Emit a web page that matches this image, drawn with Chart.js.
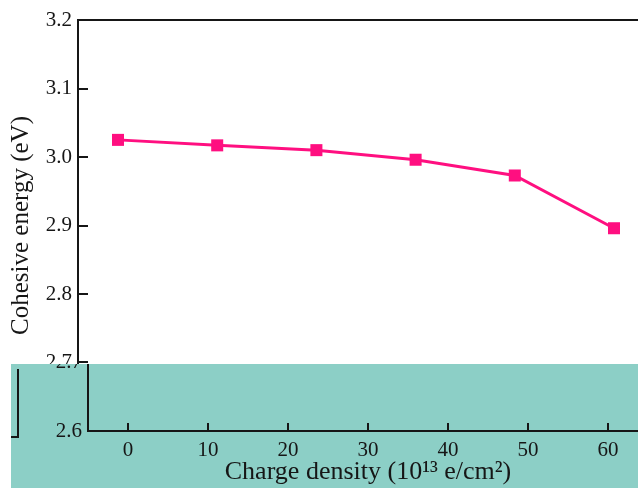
<!DOCTYPE html>
<html><head><meta charset="utf-8">
<script src="https://cdn.jsdelivr.net/npm/chart.js@4.4.1/dist/chart.umd.min.js"></script>
<style>html,body{margin:0;padding:0;background:#fff;}#wrap{width:638px;height:488px;position:relative;}canvas{display:block;}</style>
</head><body><div id="wrap"><canvas id="c" width="638" height="488"></canvas></div>
<script>
const chargeDensity = [0, 12.4, 24.8, 37.2, 49.6, 62.0];
const cohesiveEnergy = [3.025, 3.017, 3.010, 2.996, 2.973, 2.896];
const xTickValues = [0, 10, 20, 30, 40, 50, 60];
const yTickValues = [2.6, 2.7, 2.8, 2.9, 3.0, 3.1, 3.2];
const xTitle = 'Charge density (10\u00B9\u00B3 e/cm\u00B2)';
const yTitle = 'Cohesive energy (eV)';

const AXIS = '#161616';
const TEAL = '#8ccfc6';
const SERIES = '#ff0f80';
const SERIF = "'Liberation Serif', 'Times New Roman', serif";

const framePlugin = {
  id: 'frame',
  beforeDraw(chart) {
    const ctx = chart.ctx;
    ctx.save();
    ctx.fillStyle = '#ffffff';
    ctx.fillRect(0, 0, chart.width, chart.height);
    ctx.fillStyle = TEAL;
    ctx.fillRect(0, 364, chart.width, chart.height - 364);
    ctx.restore();
  },
  afterDraw(chart) {
    const ctx = chart.ctx;
    const a = chart.chartArea;
    const xs = chart.scales.x, ys = chart.scales.y;
    ctx.save();
    ctx.strokeStyle = AXIS;
    ctx.lineWidth = 2;
    ctx.beginPath();
    ctx.moveTo(a.left - 1, a.top);
    ctx.lineTo(chart.width, a.top);
    xTickValues.forEach(v => {
      const px = Math.round(xs.getPixelForValue(v));
      ctx.moveTo(px, a.bottom);
      ctx.lineTo(px, a.bottom - 8);
    });
    yTickValues.forEach(v => {
      const py = Math.round(ys.getPixelForValue(v));
      ctx.moveTo(a.left, py);
      ctx.lineTo(a.left + 10, py);
    });
    ctx.stroke();
    ctx.restore();
    // the lower band of the reference is offset to the right
    const img = ctx.getImageData(0, 364, chart.width - 10, chart.height - 364);
    ctx.putImageData(img, 10, 364);
    ctx.save();
    ctx.fillStyle = '#ffffff';
    ctx.fillRect(0, 364, 11, chart.height - 364);
    ctx.strokeStyle = AXIS;
    ctx.lineWidth = 2;
    ctx.beginPath();
    ctx.moveTo(18, 369);
    ctx.lineTo(18, 437);
    ctx.lineTo(11, 437);
    ctx.stroke();
    ctx.restore();
  }
};

new Chart(document.getElementById('c'), {
  type: 'line',
  data: {
    datasets: [{
      data: chargeDensity.map((x, i) => ({x: x, y: cohesiveEnergy[i]})),
      borderColor: SERIES,
      backgroundColor: SERIES,
      borderWidth: 3,
      pointStyle: 'rect',
      pointRadius: 8.5,
      pointBackgroundColor: SERIES,
      pointBorderWidth: 0,
      tension: 0,
      clip: false
    }]
  },
  options: {
    responsive: false,
    devicePixelRatio: 1,
    animation: false,
    layout: {autoPadding: false, padding: {top: 20, right: 0, left: 0, bottom: 0}},
    plugins: {legend: {display: false}, tooltip: {enabled: false}},
    scales: {
      x: {
        type: 'linear', position: 'bottom', min: -5, max: 65,
        afterBuildTicks: s => { s.ticks = xTickValues.map(v => ({value: v})); },
        afterFit: s => { s.height = 57; s.paddingLeft = 0; s.paddingRight = 0; },
        grid: {drawOnChartArea: false, drawTicks: false},
        border: {display: true, color: AXIS, width: 2},
        ticks: {font: {family: SERIF, size: 21}, color: AXIS, padding: 7, maxRotation: 0,
                callback: v => String(v)},
        title: {display: true, text: xTitle, font: {family: SERIF, size: 26}, color: AXIS,
                padding: {top: 0, bottom: 0}}
      },
      y: {
        type: 'linear', position: 'left', min: 2.6, max: 3.2,
        afterBuildTicks: s => { s.ticks = yTickValues.map(v => ({value: v})); },
        afterFit: s => { s.width = 78; s.paddingTop = 0; s.paddingBottom = 0; },
        grid: {drawOnChartArea: false, drawTicks: false},
        border: {display: true, color: AXIS, width: 2},
        ticks: {font: {family: SERIF, size: 21}, color: AXIS, padding: 6,
                callback: v => Number(v).toFixed(1)},
        title: {display: true, text: yTitle, font: {family: SERIF, size: 25}, color: AXIS,
                padding: {top: 6, bottom: 0}}
      }
    }
  },
  plugins: [framePlugin]
});
</script>
</body></html>
